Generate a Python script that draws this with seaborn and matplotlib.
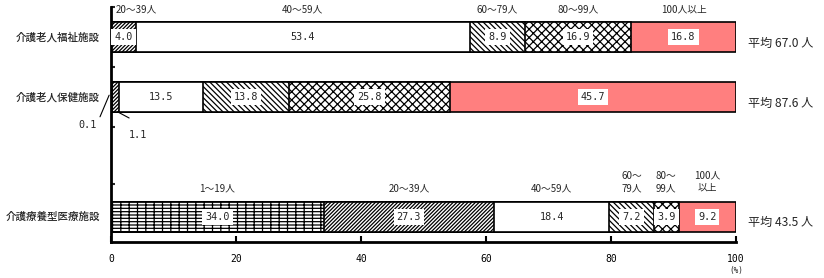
import matplotlib
matplotlib.use('Agg')
import matplotlib.pyplot as plt
import seaborn as sns
import numpy as np
import pandas as pd

# ---- data ----
facilities = ['介護老人福祉施設', '介護老人保健施設', '介護療養型医療施設']
groups = ['1～19人', '20～39人', '40～59人', '60～79人', '80～99人', '100人以上']
welfare = [0.0, 4.0, 53.4, 8.9, 16.9, 16.8]
health = [0.1, 1.1, 13.5, 13.8, 25.8, 45.7]
medical = [34.0, 27.3, 18.4, 7.2, 3.9, 9.2]
averages = ['67.0', '87.6', '43.5']
xtick_values = [0, 20, 40, 60, 80, 100]
row1_group_labels = ['', '20～39人', '40～59人', '60～79人', '80～99人', '100人以上']
row3_group_labels = ['1～19人', '20～39人', '40～59人', '60～\n79人', '80～\n99人', '100人\n以上']

# ---- styles ----
hatches = ['-----||', '/////////', '', '\\\\\\\\\\\\', 'xxxx', '']
faces = ['white', 'white', 'white', 'white', 'white', '#FF7F7F']
row_pos = [0, 1, 3]

sns.set_theme(style='white')
plt.rcParams['font.family'] = ['Noto Sans CJK JP', 'DejaVu Sans']
plt.rcParams['hatch.linewidth'] = 0.9
plt.rcParams['hatch.color'] = 'black'

fig = plt.figure(figsize=(8.24, 2.78), dpi=100)
fig.patch.set_facecolor('white')
ax = fig.add_axes([111 / 824, 1 - 242 / 278, 625 / 824, 235 / 278])
ax.set_facecolor('white')

values = np.array([welfare, health, medical])
cum = values.cumsum(axis=1)

for k in reversed(range(len(groups))):
    df = pd.DataFrame({'x': cum[:, k], 'y': row_pos})
    sns.barplot(data=df, x='x', y='y', orient='y', native_scale=True, width=0.5,
                color=faces[k], saturation=1, edgecolor='black', linewidth=1.2,
                hatch=hatches[k], errorbar=None, ax=ax)

mono = 'DejaVu Sans Mono'
# value labels
for i, row in enumerate(values):
    for k, v in enumerate(row):
        if v < 2:
            continue
        c = cum[i, k] - v / 2
        ax.text(c, row_pos[i], f'{v:.1f}', ha='center', va='center', family=mono,
                fontsize=7.3, zorder=5,
                bbox=dict(facecolor='white', edgecolor='none', pad=2.2))

# small-value callouts for row 2
ax.plot([-1.76, -0.3], [1.33, 0.97], color='black', lw=0.8, clip_on=False)
ax.text(-3.7, 1.47, f'{health[0]:.1f}', ha='center', va='center', family=mono, fontsize=7.3)
ax.plot([1.1, 2.9], [1.25, 1.35], color='black', lw=0.8, clip_on=False)
ax.text(4.3, 1.63, f'{health[1]:.1f}', ha='center', va='center', family=mono, fontsize=7.3)

# group labels above row 1
for k, lab in enumerate(row1_group_labels):
    if not lab:
        continue
    c = cum[0, k] - values[0, k] / 2
    if k == 1:
        ax.text(0.8, -0.46, lab, ha='left', va='center', fontsize=7, clip_on=False)
    else:
        ax.text(c, -0.46, lab, ha='center', va='center', fontsize=7, clip_on=False)

# group labels above row 3
for k, lab in enumerate(row3_group_labels):
    c = cum[2, k] - values[2, k] / 2
    ax.text(c, 2.6, lab, ha='center', va='bottom', fontsize=7, linespacing=1.3)

# facility labels
for i, name in enumerate(facilities):
    ax.text(-1.8, row_pos[i], name, ha='right', va='center', fontsize=7.6,
            fontweight='medium', clip_on=False)

# averages
for i, a in enumerate(averages):
    ax.text(101.9, row_pos[i] + 0.1, f'平均 {a} 人', ha='left', va='center',
            fontsize=8.7, clip_on=False)

ax.set_xlim(0, 100)
ax.set_ylim(3.417, -0.5)
ax.set_xlabel('')
ax.set_ylabel('')
ax.set_xticks(xtick_values)
ax.set_xticklabels([str(t) for t in xtick_values], family=mono, fontsize=7)
ax.set_yticks([-0.5, 0.5, 1.5, 2.45])
ax.set_yticklabels([])
ax.tick_params(axis='x', direction='in', length=4, width=1.5, pad=9, colors='black',
               bottom=True, top=False)
ax.tick_params(axis='y', direction='in', length=3, width=1.5, left=True, right=False)
ax.text(100, 3.9, '(%)', ha='center', va='center', family=mono, fontsize=5.5, clip_on=False)

for s in ['top', 'right']:
    ax.spines[s].set_visible(False)
for s in ['left', 'bottom']:
    ax.spines[s].set_linewidth(2)
    ax.spines[s].set_color('black')
ax.grid(False)

fig.savefig('out.png', dpi=100, facecolor='white')
